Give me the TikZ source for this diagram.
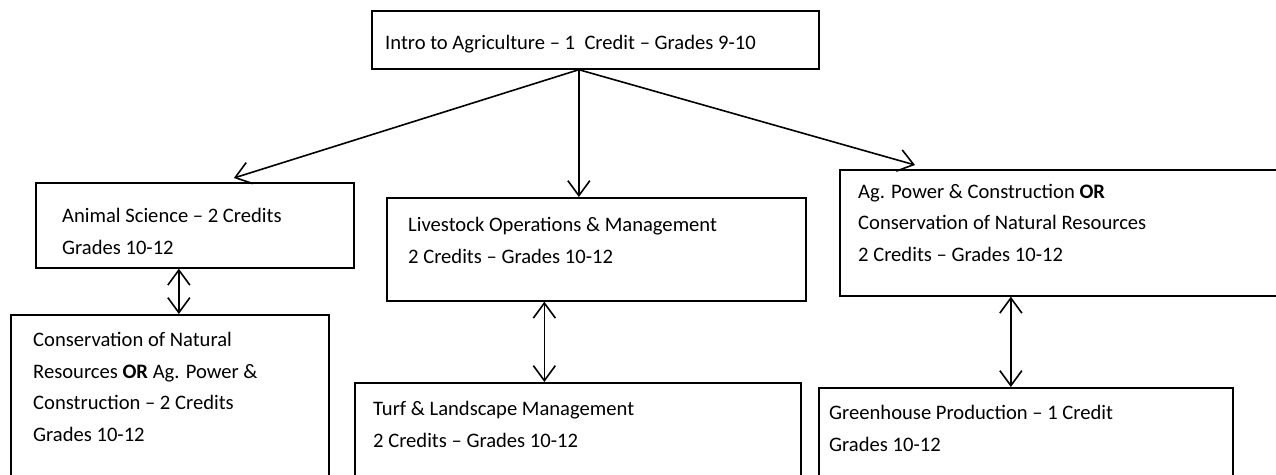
\documentclass[tikz,border=0pt]{standalone}
\usepackage{fontspec}
\setmainfont{Carlito}
\usetikzlibrary{arrows.meta,positioning}

\tikzset{
  box/.style={draw, line width=1.7pt, anchor=north west, inner sep=0pt},
  txt/.style={anchor=base west, align=left, inner sep=0pt,
    font=\fontsize{20.6}{31.5}\selectfont},
  link/.style={line width=1.6pt, -{Straight Barb[length=15pt,width=22pt]}},
  twoway/.style={line width=1.6pt,
    {Straight Barb[length=15pt,width=22pt]}-{Straight Barb[length=15pt,width=22pt]}},
}

\begin{document}
\begin{tikzpicture}[x=1pt,y=-1pt]
  \useasboundingbox (0,0) rectangle (1276,474);
  \clip (0,0) rectangle (1276,474);

  % Boxes
  \node[box, minimum width=447pt, minimum height=58pt] (intro) at (371,10) {};
  \node[box, minimum width=318pt, minimum height=85pt] (anim) at (35,182) {};
  \node[box, minimum width=419pt, minimum height=103pt] (live) at (386,197) {};
  \node[box, minimum width=460pt, minimum height=126pt] (agpow) at (839,169) {};
  \node[box, minimum width=318pt, minimum height=180pt] (cons) at (10,314) {};
  \node[box, minimum width=446pt, minimum height=120pt] (turf) at (354,382) {};
  \node[box, minimum width=414pt, minimum height=120pt] (green) at (818,387) {};

  % Texts (placed by the baseline of their last line)
  \node[txt] (introtxt) at (385,49) {Intro to Agriculture – 1\ \ Credit – Grades 9-10};
  \node[txt] (animtxt) at (62,254) {Animal Science – 2 Credits\\Grades 10-12};
  \node[txt] (livetxt) at (408,263) {Livestock Operations \& Management\\2 Credits – Grades 10-12};
  \node[txt] (agpowtxt) at (858,261) {Ag. Power \& Construction \textbf{OR}\\Conservation of Natural Resources\\2 Credits – Grades 10-12};
  \node[txt] (constxt) at (33,441) {Conservation of Natural\\Resources \textbf{OR} Ag. Power \&\\Construction – 2 Credits\\Grades 10-12};
  \node[txt] (turftxt) at (373,447) {Turf \& Landscape Management\\2 Credits – Grades 10-12};
  \node[txt] (greentxt) at (829,451) {Greenhouse Production – 1 Credit\\Grades 10-12};

  % Arrows
  \coordinate (fork) at ([xshift=-16.5pt]intro.south);
  \draw[link] (fork) -- ([xshift=39pt,yshift=4pt]anim.north);
  \draw[link] (fork) -- (fork |- live.north);
  \draw[link] (fork) -- ([xshift=76pt,yshift=4pt]agpow.north west);

  \draw[twoway] ([xshift=-16pt]anim.south) -- ([xshift=-16pt]anim.south |- cons.north);
  \draw[twoway] ([xshift=-52pt]live.south) -- ([xshift=-52pt]live.south |- turf.north);
  \draw[twoway] ([xshift=-15pt]green.north |- agpow.south) -- ([xshift=-15pt]green.north);
\end{tikzpicture}
\end{document}
